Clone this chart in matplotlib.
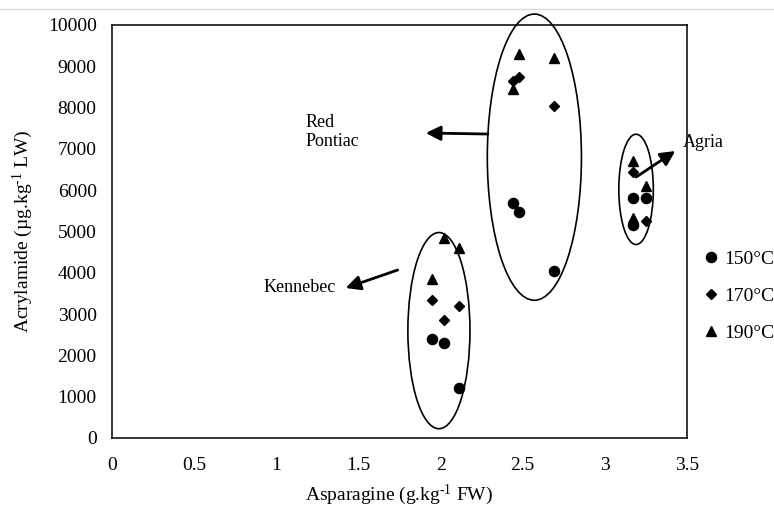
import matplotlib
matplotlib.use("Agg")
import matplotlib.pyplot as plt
from matplotlib.patches import Ellipse
from matplotlib.lines import Line2D

plt.rcParams['font.family'] = ['Liberation Serif', 'DejaVu Serif']
plt.rcParams['mathtext.fontset'] = 'custom'
plt.rcParams['mathtext.rm'] = 'Liberation Serif'
plt.rcParams['mathtext.it'] = 'Liberation Serif:italic'
plt.rcParams['mathtext.bf'] = 'Liberation Serif:bold'

# ---- data ----
temps = ['150°C', '170°C', '190°C']
asparagine_150 = [1.95, 2.02, 2.11, 2.44, 2.48, 2.69, 3.17, 3.25, 3.17]
acrylamide_150 = [2400, 2300, 1200, 5700, 5470, 4050, 5800, 5800, 5150]
asparagine_170 = [1.95, 2.02, 2.11, 2.44, 2.48, 2.69, 3.17, 3.25]
acrylamide_170 = [3350, 2850, 3200, 8650, 8750, 8050, 6430, 5250]
asparagine_190 = [1.95, 2.02, 2.11, 2.44, 2.48, 2.69, 3.17, 3.25, 3.17]
acrylamide_190 = [3850, 4850, 4600, 8450, 9300, 9200, 6700, 6100, 5330]

varieties = ['Kennebec', 'Red\nPontiac', 'Agria']
ellipse_center_x = [1.99, 2.571, 3.19]
ellipse_center_y = [2600, 6800, 6020]
ellipse_width = [0.378, 0.573, 0.21]
ellipse_height = [4750, 6930, 2670]
arrow_tail = [(1.739, 4068), (2.288, 7360), (3.191, 6320)]
arrow_tip = [(1.422, 3632), (1.910, 7385), (3.429, 6949)]
label_pos = [(0.921, 3632), (1.178, 7409), (3.472, 7167)]

x_ticks = [0, 0.5, 1, 1.5, 2, 2.5, 3, 3.5]
x_tick_labels = ['0', '0.5', '1', '1.5', '2', '2.5', '3', '3.5']
y_ticks = list(range(0, 10001, 1000))

fig = plt.figure(figsize=(7.74, 5.08), dpi=100)
ax = fig.add_axes([112/774, 70/508, (687-112)/774, (438-25)/508])

ax.plot(asparagine_150, acrylamide_150, 'o', ms=7.3, color='black', ls='none', label=temps[0])
ax.plot(asparagine_170, acrylamide_170, 'D', ms=5.0, color='black', ls='none', label=temps[1])
ax.plot(asparagine_190, acrylamide_190, '^', ms=7.3, color='black', ls='none', label=temps[2])

for cx, cy, w, h in zip(ellipse_center_x, ellipse_center_y, ellipse_width, ellipse_height):
    ax.add_patch(Ellipse((cx, cy), w, h, facecolor='none', edgecolor='black', lw=1.2, clip_on=False))

for tail, tip in zip(arrow_tail, arrow_tip):
    ax.annotate('', xy=tip, xytext=tail,
                arrowprops=dict(arrowstyle='-|>', lw=2, color='black', mutation_scale=22,
                                shrinkA=0, shrinkB=0), annotation_clip=False)

for name, (lx, ly) in zip(varieties, label_pos):
    ax.text(lx, ly, name, ha='left', va='center', fontsize=13, linespacing=1.15, clip_on=False)

ax.set_xlim(0, 3.5)
ax.set_ylim(0, 10000)
ax.set_xticks(x_ticks)
ax.set_xticklabels(x_tick_labels)
ax.set_yticks(y_ticks)
ax.tick_params(length=0, labelsize=14)
ax.tick_params(axis='x', pad=14)
ax.tick_params(axis='y', pad=11)
for s in ax.spines.values():
    s.set_linewidth(1.1)
    s.set_color('black')

ax.set_xlabel('Asparagine (g.kg$^{\\mathregular{\u2010}1}$ FW)', fontsize=14, labelpad=6)
ax.set_ylabel('Acrylamide (µg.kg$^{\\mathregular{\u2010}1}$ LW)', fontsize=14, labelpad=9)

leg = ax.legend(loc='center left', bbox_to_anchor=(703/774, (508-296)/508), bbox_transform=fig.transFigure,
                frameon=False, fontsize=14, handlelength=0.8, handletextpad=0.3,
                labelspacing=1.0, borderpad=0, borderaxespad=0)

fig.add_artist(Line2D([0, 1], [1 - 9/508, 1 - 9/508], transform=fig.transFigure, color='#d9d9d9', lw=1))

fig.savefig('out.png', dpi=100)
